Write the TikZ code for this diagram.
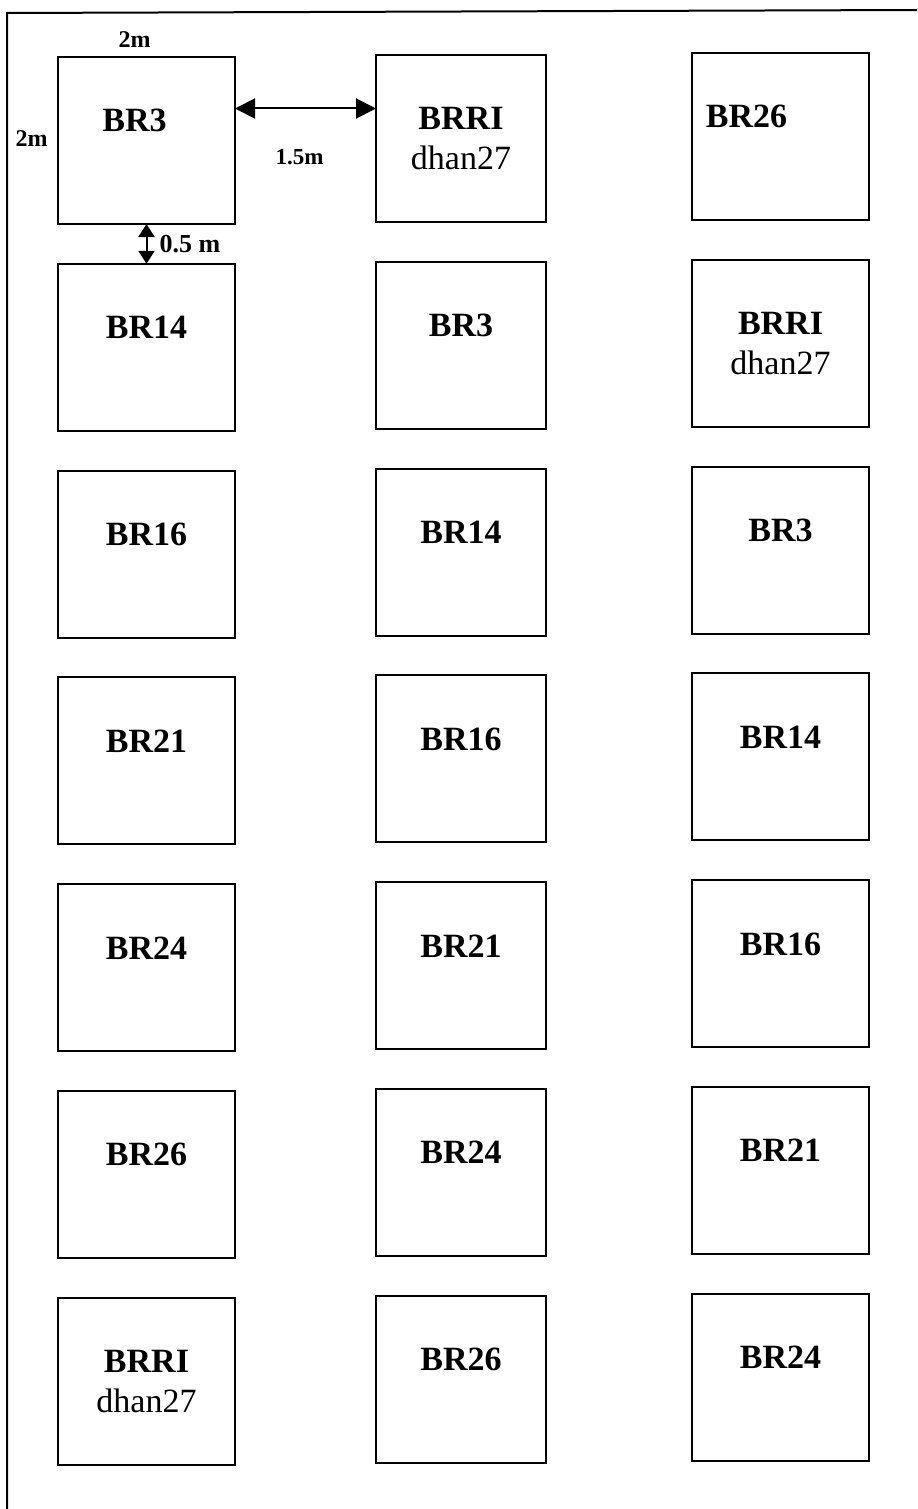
\documentclass[tikz,border=0pt]{standalone}
\usepackage{fontspec}
\setmainfont{Liberation Serif}
\usetikzlibrary{positioning,arrows.meta}

\begin{document}
\begin{tikzpicture}[x=0.5pt, y=-0.5pt,
  plot/.style={draw, line width=1pt, minimum width=88.5pt, minimum height=83.5pt, inner sep=0pt, outer sep=0pt},
  variety/.style={inner sep=0pt, align=center, font=\fontsize{17}{20}\selectfont\bfseries},
  dim/.style={inner sep=0pt, font=\fontsize{12}{14}\selectfont\bfseries},
  gap/.style={line width=1pt, {Triangle[length=10pt,width=10pt]}-{Triangle[length=10pt,width=10pt]}},
  gapv/.style={line width=1pt, {Triangle[length=6.5pt,width=8pt]}-{Triangle[length=6.5pt,width=8pt]}}]
  \useasboundingbox (0,0) rectangle (917,1509);
  % outer field border
  \draw[line width=1pt] (7,1509) -- (7,13) -- (917,10);
  % plots, 3 columns x 7 rows
  \foreach \c/\x/\t/\w in {1/146.5/57/88.5, 2/461/55/85, 3/780.5/53/88.5}
    \foreach \r in {1,...,7}
      \node[plot, minimum width=\w pt] (b\r\c) at (\x,{\t+83.5+206.8*(\r-1)}) {};
  % varieties
  \foreach \r/\la/\lb/\lc/\sa/\sc in {1/BR3/{BRRI\\{\mdseries dhan27}}/BR26/-6/-17,
      2/BR14/BR3/{BRRI\\{\mdseries dhan27}}/0/0, 3/BR16/BR14/BR3/0/0, 4/BR21/BR16/BR14/0/0,
      5/BR24/BR21/BR16/0/0, 6/BR26/BR24/BR21/0/0, 7/{BRRI\\{\mdseries dhan27}}/BR26/BR24/0/0} {
    \node[variety, below=26pt of b\r1.north, xshift=\sa pt] (t\r1) {\la};
    \node[variety, below=26pt of b\r2.north] (t\r2) {\lb};
    \node[variety, below=26pt of b\r3.north, xshift=\sc pt] (t\r3) {\lc};
  }
  % dimensions
  \node[dim, above=4.5pt of b11.north, xshift=-6pt] (wtop) {2m};
  \node[dim, left=5pt of b11.west, yshift=1pt] (wleft) {2m};
  \draw[gap] ([yshift=16pt]b11.east) -- ([yshift=16pt]b11.east -| b12.west)
    node[dim, midway, below=20pt, xshift=-3pt, font=\fontsize{11.5}{14}\selectfont\bfseries] (gh) {1.5m};
  \draw[gapv] (b11.south) -- (b21.north)
    node[dim, midway, right=6pt, font=\fontsize{13}{15}\selectfont\bfseries] (gv) {0.5 m};
\end{tikzpicture}
\end{document}
